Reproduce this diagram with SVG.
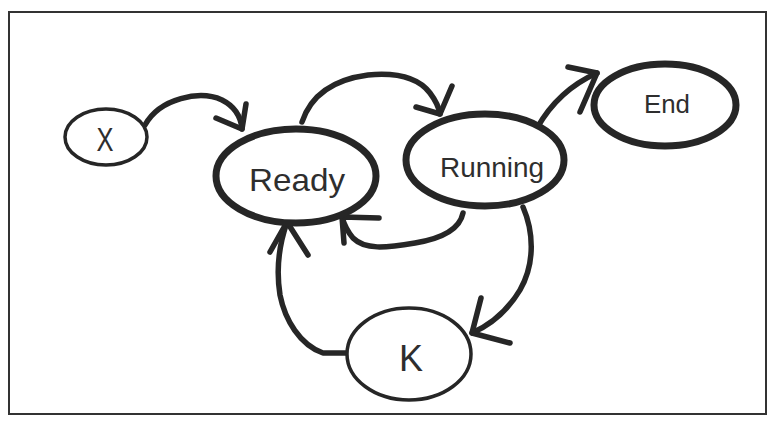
<svg xmlns="http://www.w3.org/2000/svg" width="767" height="424" viewBox="0 0 767 424">
<style>
.frame{fill:#fff;stroke:#333;stroke-width:2}
.thick{fill:#fff;stroke:#262626;stroke-width:7}
.thin{fill:#fff;stroke:#262626;stroke-width:3.5}
.edge{fill:none;stroke:#262626;stroke-width:5.5;stroke-linecap:round;stroke-linejoin:round}
.lbl{font-family:"Liberation Sans","DejaVu Sans",sans-serif;fill:#2e2e2e;text-anchor:middle}
</style>
<rect class="frame" x="9" y="12" width="757" height="402"/>
<g id="connectors">
  <g id="e-x-ready"><path class="edge" d="M145,125 C160,98 200,90 222,100 C236,107 241,118 242,129"/><path class="edge" d="M216,118 L242,129 L246,104"/></g>
  <g id="e-ready-running"><path class="edge" d="M302,122 C310,98 330,80 368,75 C400,72 420,80 430,93 C436,101 439,108 440,114"/><path class="edge" d="M416,107 L440,114 L452,86"/></g>
  <g id="e-running-end"><path class="edge" d="M537,128 C550,105 570,85 597,73"/><path class="edge" d="M568,67 L597,73 L580,112"/></g>
  <g id="e-running-ready"><path class="edge" d="M463,213 C460,228 445,238 415,243 C385,248 365,250 353,238 C347,231 344,224 342,217"/><path class="edge" d="M379,218 L342,217 L344,243"/></g>
  <g id="e-running-k"><path class="edge" d="M523,207 C533,230 536,262 520,290 C508,310 490,325 472,333"/><path class="edge" d="M481,298 L472,333 L510,343"/></g>
  <g id="e-k-ready"><path class="edge" d="M346,353 L323,353 C300,345 285,320 280,295 C276,270 279,245 287,222"/><path class="edge" d="M270,252 L287,222 L308,255"/></g>
</g>
<g id="node-x"><ellipse class="thin" cx="106" cy="137" rx="41" ry="28"/><text class="lbl" x="105" y="151" font-size="34" textLength="17" lengthAdjust="spacingAndGlyphs">X</text></g>
<g id="node-ready"><ellipse class="thick" cx="296" cy="176" rx="80" ry="47"/><text class="lbl" x="297" y="191" font-size="32" textLength="96" lengthAdjust="spacingAndGlyphs">Ready</text></g>
<g id="node-running"><ellipse class="thick" cx="485" cy="160" rx="79" ry="46"/><text class="lbl" x="492" y="177" font-size="28" textLength="104" lengthAdjust="spacingAndGlyphs">Running</text></g>
<g id="node-end"><ellipse class="thick" cx="665" cy="105" rx="71" ry="41"/><text class="lbl" x="667" y="113" font-size="25" textLength="46" lengthAdjust="spacingAndGlyphs">End</text></g>
<g id="node-k"><ellipse class="thin" cx="409" cy="354" rx="62" ry="46"/><text class="lbl" x="411" y="371" font-size="36" textLength="24" lengthAdjust="spacingAndGlyphs">K</text></g>
</svg>
